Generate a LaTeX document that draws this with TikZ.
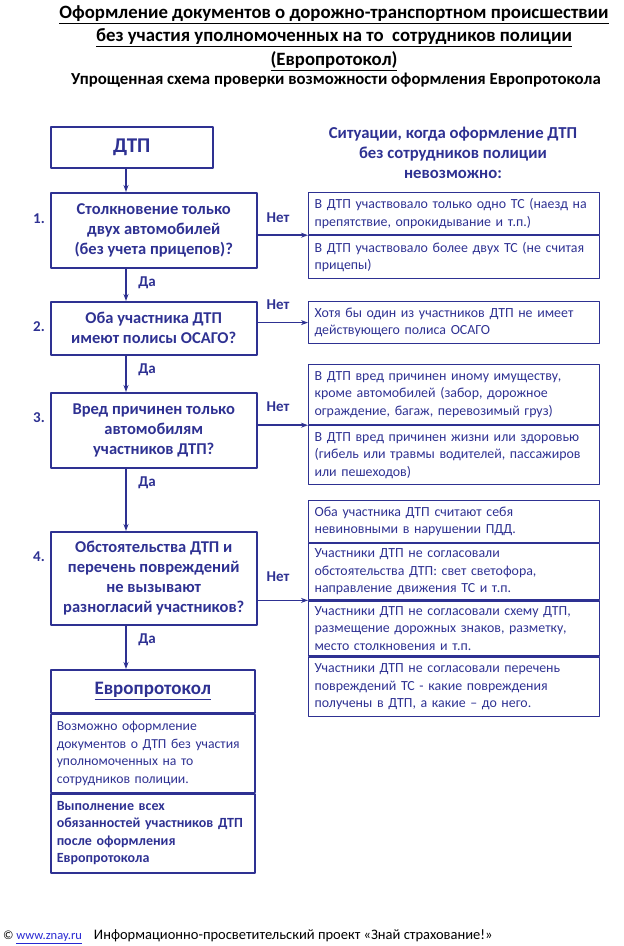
\documentclass[tikz,border=0pt]{standalone}
\usepackage{fontspec}
\setmainfont{Carlito}
\usetikzlibrary{arrows.meta}
\definecolor{navy}{RGB}{46,49,146}
\definecolor{linkblue}{RGB}{40,40,210}

\begin{document}
\begin{tikzpicture}[x=1pt, y=-1pt, line join=round, >={Stealth[length=7pt,width=5pt]},
	qbox/.style={draw=navy, line width=1.5pt, text=navy, font=\fontsize{16.5}{20}\selectfont\bfseries, align=center, minimum width=206pt, inner sep=0pt, anchor=north west},
	cell/.style={draw=navy, line width=1.2pt, text=navy, font=\fontsize{13.9}{17.5}\selectfont, align=left, text width=279pt, inner xsep=6pt, inner ysep=0pt, anchor=north west},
	epcell/.style={cell, text width=192pt, line width=1.5pt, font=\fontsize{13.7}{17.5}\selectfont},
	lbl/.style={text=navy, font=\fontsize{15}{16}\selectfont\bfseries},
	arr/.style={->, draw=navy, line width=1.5pt}]
	\useasboundingbox (0,0) rectangle (624,946);
	%\draw[gray!10] (0,0) grid[step=50] (624,946);
	% title
	\node[font=\fontsize{18.8}{23.5}\selectfont\bfseries, align=center] (title) at (334,38)
		{\underline{Оформление документов о дорожно-транспортном происшествии}\\
		 \underline{без участия уполномоченных на то\ \ сотрудников полиции}\\
		 \underline{(Европротокол)}};
	\node[font=\fontsize{16.8}{18}\selectfont\bfseries] (subtitle) at (336,80)
		{Упрощенная схема проверки возможности оформления Европротокола};
	% left column
	\coordinate (ax) at (126,0);
	\node[qbox, minimum width=162pt, minimum height=41pt, font=\fontsize{21}{24}\selectfont\bfseries] (dtp) at (50,126) {ДТП};
	\node[qbox, minimum height=75pt] (q1) at (50,192) {Столкновение только\\двух автомобилей\\(без учета прицепов)?};
	\node[qbox, minimum height=53pt] (q2) at (50,301) {Оба участника ДТП\\имеют полисы ОСАГО?};
	\node[qbox, minimum height=75pt] (q3) at (50,392) {Вред причинен только\\автомобилям\\участников ДТП?};
	\node[qbox, minimum height=93pt] (q4) at (50,531) {Обстоятельства ДТП и\\перечень повреждений\\не вызывают\\разногласий участников?};
	\node[lbl] (n1) at (39,219) {1.};
	\node[lbl] (n2) at (39,327) {2.};
	\node[lbl] (n3) at (39,418) {3.};
	\node[lbl] (n4) at (39,557) {4.};
	% europrotocol
	\node[epcell, minimum height=43pt, align=center, font=\fontsize{19}{20}\selectfont\bfseries] (ep) at (50,669) {\underline{Европротокол}};
	\node[epcell, minimum height=78pt] (ep1) at (ep.south west) {Возможно оформление\\документов о ДТП без участия\\уполномоченных на то\\сотрудников полиции.};
	\node[epcell, minimum height=79pt, font=\fontsize{14}{17.5}\selectfont\bfseries] (ep2) at (ep1.south west) {Выполнение всех\\обязанностей участников ДТП\\после оформления\\Европротокола};
	% right column
	\node[text=navy, font=\fontsize{16.7}{20}\selectfont\bfseries, align=center] (head) at (453,153)
		{Ситуации, когда оформление ДТП\\без сотрудников полиции\\невозможно:};
	\node[cell, minimum height=42pt] (r1a) at (308,192) {В ДТП участвовало только одно ТС (наезд на\\препятствие, опрокидывание и т.п.)};
	\node[cell, minimum height=43pt] (r1b) at (r1a.south west) {В ДТП участвовало более двух ТС (не считая\\прицепы)};
	\node[cell, minimum height=42pt] (r2) at (308,301) {Хотя бы один из участников ДТП не имеет\\действующего полиса ОСАГО};
	\node[cell, minimum height=60pt] (r3a) at (308,364) {В ДТП вред причинен иному имуществу,\\кроме автомобилей (забор, дорожное\\ограждение, багаж, перевозимый груз)};
	\node[cell, minimum height=59pt] (r3b) at (r3a.south west) {В ДТП вред причинен жизни или здоровью\\(гибель или травмы водителей, пассажиров\\или пешеходов)};
	\node[cell, minimum height=42pt] (r4a) at (308,500) {Оба участника ДТП считают себя\\невиновными в нарушении ПДД.};
	\node[cell, minimum height=56pt] (r4b) at (r4a.south west) {Участники ДТП не согласовали\\обстоятельства ДТП: свет светофора,\\направление движения ТС и т.п.};
	\node[cell, minimum height=55pt] (r4c) at (r4b.south west) {Участники ДТП не согласовали схему ДТП,\\размещение дорожных знаков, разметку,\\место столкновения и т.п.};
	\node[cell, minimum height=59pt] (r4d) at (r4c.south west) {Участники ДТП не согласовали перечень\\повреждений ТС - какие повреждения\\получены в ДТП, а какие – до него.};
	% yes arrows
	\draw[arr] (dtp.south -| ax) -- (q1.north -| ax);
	\draw[arr] (q1.south -| ax) -- (q2.north -| ax);
	\draw[arr] (q2.south -| ax) -- (q3.north -| ax);
	\draw[arr] (q3.south -| ax) -- (q4.north -| ax);
	\draw[arr] (q4.south -| ax) -- (ep.north -| ax);
	\node[lbl] (y1) at (147,283) {Да};
	\node[lbl] (y2) at (147,370) {Да};
	\node[lbl] (y3) at (147,483) {Да};
	\node[lbl] (y4) at (147,640) {Да};
	% no arrows
	\draw[arr] (q1.east |- r1b.north west) -- (r1b.north west);
	\draw[arr] (q2.east |- r2.west) -- (r2.west);
	\draw[arr] (q3.east |- r3b.north west) -- (r3b.north west);
	\draw[arr] (q4.east |- r4c.north west) -- (r4c.north west);
	\node[lbl] (no1) at (278,218) {Нет};
	\node[lbl] (no2) at (278,305) {Нет};
	\node[lbl] (no3) at (278,407) {Нет};
	\node[lbl] (no4) at (278,577) {Нет};
	% footer
	\node[anchor=west, inner sep=0pt, font=\fontsize{14.5}{16}\selectfont] (foot) at (3,937)
		{{\fontsize{12.5}{15}\selectfont©\ \textcolor{linkblue}{\underline{www.znay.ru}}}\hspace{12pt}Информационно-просветительский проект «Знай страхование!»};
\end{tikzpicture}
\end{document}
